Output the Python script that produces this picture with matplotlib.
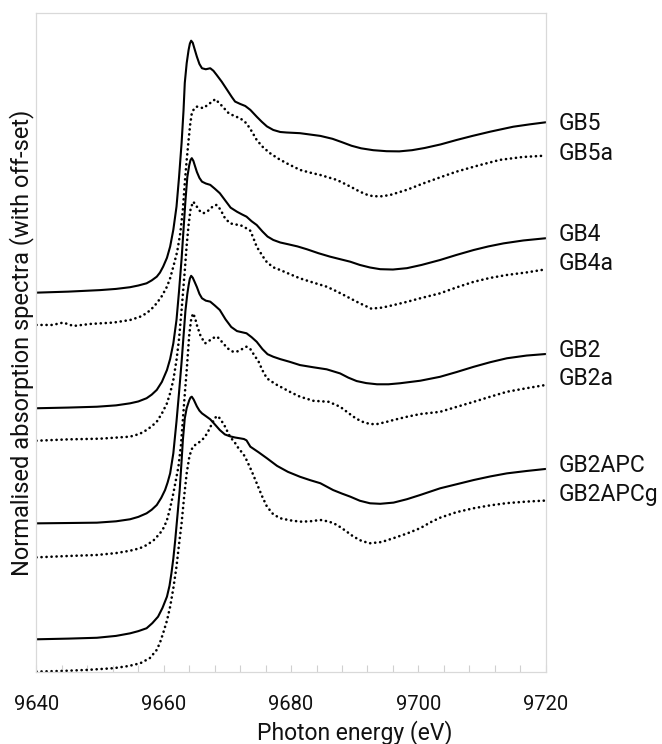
import matplotlib
matplotlib.use("Agg")
import matplotlib.pyplot as plt
from matplotlib.ticker import MultipleLocator
import matplotlib.transforms as mtransforms

plt.rcParams['font.family'] = ['Roboto', 'DejaVu Sans']

# ---------------- data (normalised absorption) ----------------
names = ["GB5", "GB5a", "GB4", "GB4a", "GB2", "GB2a", "GB2APC", "GB2APCg"]
offsets = [2.233, 2.043, 1.553, 1.362, 0.876, 0.676, 0.194, 0.004]

e_gb5 = [9640.0, 9645.0, 9650.0, 9652.5, 9654.7, 9656.0, 9657.3, 9658.1, 9658.9, 9659.4,
         9659.9, 9660.5, 9661.0, 9661.5, 9662.0, 9662.4, 9662.8, 9663.1, 9663.3, 9663.6,
         9663.9, 9664.1, 9664.3, 9664.55, 9664.8, 9665.2, 9665.6, 9666.0, 9666.6, 9667.3,
         9667.8, 9668.3, 9669.1, 9670.0, 9670.7, 9671.2, 9672.0, 9672.8, 9673.6, 9674.6,
         9675.4, 9676.2, 9677.2, 9678.3, 9679.3, 9681.4, 9684.6, 9686.5, 9688.0, 9689.5,
         9691.0, 9692.9, 9695.0, 9697.0, 9699.0, 9701.0, 9703.5, 9706.0, 9708.5, 9711.3,
         9714.9, 9717.5, 9720.0]
mu_gb5 = [0.000, 0.006, 0.015, 0.022, 0.032, 0.042, 0.055, 0.072, 0.094, 0.118,
          0.153, 0.205, 0.271, 0.370, 0.506, 0.680, 0.881, 1.070, 1.234, 1.350,
          1.428, 1.465, 1.482, 1.470, 1.438, 1.388, 1.345, 1.320, 1.314, 1.320,
          1.305, 1.281, 1.241, 1.190, 1.150, 1.124, 1.110, 1.098, 1.075, 1.035,
          1.005, 0.978, 0.957, 0.945, 0.942, 0.938, 0.922, 0.905, 0.885, 0.864,
          0.849, 0.838, 0.832, 0.831, 0.838, 0.851, 0.872, 0.898, 0.922, 0.947,
          0.976, 0.990, 1.002]

e_gb5a = [9640.0, 9642.5, 9644.2, 9645.8, 9648.5, 9652.1, 9654.7, 9656.2, 9657.3, 9658.1,
          9658.9, 9659.7, 9660.5, 9661.0, 9661.5, 9662.1, 9662.6, 9663.0, 9663.3, 9663.6,
          9663.9, 9664.15, 9664.4, 9664.8, 9665.2, 9665.7, 9666.2, 9667.1, 9668.1, 9669.1,
          9670.1, 9671.0, 9672.0, 9673.0, 9673.8, 9674.6, 9675.6, 9676.7, 9678.0, 9679.3,
          9681.4, 9683.0, 9684.6, 9687.2, 9689.3, 9690.8, 9692.0, 9692.9, 9694.3, 9695.6,
          9698.2, 9700.8, 9703.4, 9706.0, 9709.4, 9712.8, 9716.4, 9720.0]
mu_gb5a = [0.000, 0.000, 0.014, -0.006, 0.006, 0.014, 0.029, 0.047, 0.069, 0.095,
           0.128, 0.170, 0.225, 0.275, 0.343, 0.430, 0.541, 0.680, 0.835, 0.970,
           1.088, 1.180, 1.245, 1.275, 1.284, 1.280, 1.275, 1.300, 1.328, 1.290,
           1.249, 1.230, 1.216, 1.186, 1.140, 1.088, 1.045, 1.010, 0.978, 0.951,
           0.912, 0.896, 0.882, 0.853, 0.814, 0.784, 0.765, 0.757, 0.757, 0.765,
           0.795, 0.833, 0.868, 0.902, 0.938, 0.971, 0.988, 0.996]

e_gb4 = [9640.0, 9645.0, 9649.5, 9652.5, 9654.7, 9656.0, 9657.3, 9658.1, 9658.9, 9659.7,
         9660.5, 9661.0, 9661.5, 9662.0, 9662.4, 9662.8, 9663.1, 9663.4, 9663.7, 9664.0,
         9664.2, 9664.4, 9664.65, 9664.9, 9665.2, 9665.6, 9666.0, 9666.6, 9667.3, 9668.0,
         9668.8, 9669.6, 9670.5, 9671.5, 9672.3, 9673.0, 9673.8, 9674.6, 9675.5, 9676.3,
         9677.2, 9678.3, 9679.5, 9681.0, 9682.5, 9684.3, 9686.1, 9687.8, 9689.3, 9690.8,
         9692.4, 9694.0, 9696.0, 9698.2, 9700.5, 9703.4, 9706.0, 9708.7, 9711.0, 9713.4,
         9716.5, 9720.0]
mu_gb4 = [0.000, 0.004, 0.009, 0.017, 0.029, 0.040, 0.059, 0.080, 0.108, 0.155,
          0.225, 0.290, 0.382, 0.520, 0.690, 0.880, 1.050, 1.220, 1.360, 1.430,
          1.460, 1.471, 1.455, 1.425, 1.390, 1.355, 1.333, 1.322, 1.314, 1.292,
          1.265, 1.225, 1.180, 1.156, 1.140, 1.127, 1.100, 1.078, 1.040, 1.010,
          0.990, 0.975, 0.965, 0.952, 0.935, 0.912, 0.892, 0.876, 0.862, 0.843,
          0.828, 0.818, 0.816, 0.824, 0.843, 0.872, 0.902, 0.931, 0.952, 0.970,
          0.987, 1.000]

e_gb4a = [9640.0, 9645.0, 9650.0, 9654.7, 9656.2, 9657.3, 9658.1, 9658.9, 9659.7, 9660.5,
          9661.0, 9661.5, 9662.0, 9662.4, 9662.8, 9663.3, 9663.6, 9663.9, 9664.2, 9664.6,
          9665.0, 9665.3, 9665.8, 9666.2, 9666.7, 9667.2, 9667.8, 9668.3, 9668.9, 9669.6,
          9670.4, 9671.2, 9672.0, 9673.0, 9673.6, 9674.1, 9674.6, 9675.6, 9676.2, 9677.2,
          9678.3, 9679.8, 9681.4, 9683.5, 9685.6, 9687.2, 9688.8, 9690.7, 9692.6, 9694.3,
          9696.1, 9698.2, 9700.3, 9703.4, 9706.0, 9708.7, 9711.3, 9713.9, 9717.0, 9720.0]
mu_gb4a = [0.000, 0.008, 0.012, 0.024, 0.040, 0.063, 0.085, 0.112, 0.160, 0.220,
           0.280, 0.357, 0.475, 0.600, 0.770, 1.000, 1.150, 1.270, 1.360, 1.406,
           1.390, 1.370, 1.345, 1.338, 1.345, 1.360, 1.382, 1.387, 1.360, 1.310,
           1.279, 1.272, 1.269, 1.249, 1.235, 1.190, 1.141, 1.082, 1.050, 1.020,
           1.004, 0.980, 0.955, 0.930, 0.906, 0.878, 0.847, 0.810, 0.777, 0.783,
           0.798, 0.817, 0.838, 0.867, 0.902, 0.935, 0.958, 0.975, 0.990, 1.008]

e_gb2 = [9640.0, 9645.0, 9649.5, 9652.5, 9654.7, 9656.0, 9657.3, 9658.1, 9658.9, 9659.6,
         9660.2, 9660.6, 9661.0, 9661.5, 9662.0, 9662.4, 9662.8, 9663.1, 9663.4, 9663.7,
         9663.9, 9664.1, 9664.3, 9664.55, 9664.85, 9665.2, 9665.6, 9666.0, 9666.6, 9667.3,
         9668.0, 9668.8, 9669.7, 9670.6, 9671.5, 9672.3, 9673.0, 9673.8, 9674.6, 9675.5,
         9676.3, 9677.2, 9678.3, 9679.8, 9681.4, 9683.5, 9685.6, 9687.7, 9689.0, 9690.3,
         9691.8, 9693.5, 9695.3, 9697.1, 9700.3, 9703.4, 9706.0, 9708.7, 9711.3, 9713.9,
         9717.0, 9720.0]
mu_gb2 = [0.000, 0.002, 0.004, 0.012, 0.024, 0.038, 0.059, 0.080, 0.108, 0.150,
          0.196, 0.240, 0.294, 0.412, 0.600, 0.770, 0.950, 1.100, 1.250, 1.350,
          1.400, 1.440, 1.456, 1.445, 1.420, 1.390, 1.350, 1.324, 1.310, 1.304,
          1.282, 1.255, 1.200, 1.155, 1.131, 1.124, 1.118, 1.095, 1.068, 1.025,
          0.995, 0.980, 0.966, 0.950, 0.931, 0.918, 0.906, 0.882, 0.857, 0.837,
          0.825, 0.818, 0.818, 0.824, 0.839, 0.862, 0.890, 0.921, 0.948, 0.971,
          0.987, 0.996]

e_gb2a = [9640.0, 9645.0, 9649.5, 9652.5, 9654.7, 9656.2, 9657.3, 9658.4, 9659.4, 9660.0,
          9660.5, 9661.0, 9661.5, 9662.3, 9662.7, 9663.0, 9663.3, 9663.6, 9664.0, 9664.3,
          9664.6, 9664.9, 9665.2, 9665.8, 9666.5, 9667.0, 9667.7, 9668.4, 9669.2, 9670.0,
          9670.9, 9671.6, 9672.3, 9673.0, 9673.6, 9674.2, 9674.9, 9675.5, 9676.2, 9677.5,
          9678.8, 9680.1, 9681.4, 9683.5, 9685.9, 9687.7, 9688.8, 9689.8, 9691.0, 9692.4,
          9693.5, 9694.8, 9696.1, 9698.2, 9700.3, 9703.4, 9706.0, 9708.7, 9711.3, 9713.9,
          9717.0, 9720.0]
mu_gb2a = [0.000, 0.008, 0.014, 0.025, 0.039, 0.053, 0.072, 0.100, 0.141, 0.175,
           0.219, 0.290, 0.376, 0.533, 0.660, 0.810, 0.960, 1.100, 1.310, 1.400,
           1.435, 1.410, 1.366, 1.300, 1.259, 1.270, 1.290, 1.298, 1.265, 1.230,
           1.209, 1.212, 1.225, 1.239, 1.225, 1.190, 1.151, 1.100, 1.053, 1.020,
           0.994, 0.968, 0.945, 0.921, 0.915, 0.886, 0.855, 0.827, 0.800, 0.784,
           0.784, 0.795, 0.808, 0.827, 0.843, 0.856, 0.885, 0.915, 0.945, 0.974,
           0.995, 1.014]

e_gb2apc = [9640.0, 9645.0, 9649.5, 9652.5, 9654.7, 9656.0, 9657.3, 9658.2, 9659.1, 9659.8,
            9660.5, 9660.9, 9661.2, 9661.5, 9661.8, 9662.2, 9662.5, 9662.8, 9663.0, 9663.3,
            9663.6, 9664.0, 9664.2, 9664.4, 9664.7, 9665.2, 9665.6, 9666.0, 9666.6, 9667.3,
            9668.0, 9668.8, 9669.6, 9670.4, 9671.2, 9672.0, 9672.6, 9673.0, 9673.6, 9674.9,
            9676.2, 9677.8, 9679.5, 9681.4, 9683.0, 9684.6, 9686.6, 9688.0, 9689.3, 9690.8,
            9692.4, 9694.0, 9696.1, 9698.2, 9700.3, 9703.4, 9706.0, 9708.7, 9711.3, 9713.9,
            9717.0, 9720.0]
mu_gb2apc = [0.000, 0.004, 0.009, 0.020, 0.035, 0.048, 0.065, 0.095, 0.133, 0.185,
             0.251, 0.315, 0.388, 0.475, 0.584, 0.750, 0.878, 1.050, 1.172, 1.300,
             1.360, 1.406, 1.422, 1.427, 1.410, 1.370, 1.345, 1.329, 1.313, 1.294,
             1.265, 1.231, 1.205, 1.194, 1.187, 1.182, 1.178, 1.170, 1.133, 1.100,
             1.065, 1.020, 0.985, 0.956, 0.936, 0.918, 0.878, 0.857, 0.839, 0.815,
             0.800, 0.797, 0.804, 0.824, 0.849, 0.888, 0.912, 0.937, 0.958, 0.976,
             0.990, 1.002]

e_gb2apcg = [9640.0, 9644.2, 9648.0, 9652.1, 9654.5, 9656.3, 9657.8, 9658.9, 9659.4, 9659.9,
             9660.5, 9661.0, 9661.5, 9662.0, 9662.4, 9662.8, 9663.2, 9663.6, 9664.0, 9664.3,
             9664.6, 9665.2, 9665.7, 9666.2, 9666.8, 9667.2, 9667.6, 9668.0, 9668.4, 9668.8,
             9669.5, 9670.4, 9671.2, 9671.8, 9672.5, 9673.0, 9673.8, 9674.6, 9675.4, 9676.2,
             9677.2, 9678.3, 9679.8, 9681.4, 9683.0, 9684.6, 9686.0, 9687.2, 9688.5, 9689.8,
             9691.1, 9692.4, 9694.2, 9696.1, 9698.2, 9700.3, 9702.0, 9703.4, 9706.0, 9708.7,
             9711.3, 9713.9, 9717.0, 9720.0]
mu_gb2apcg = [0.000, 0.004, 0.010, 0.020, 0.033, 0.049, 0.079, 0.128, 0.170, 0.226,
              0.300, 0.382, 0.490, 0.618, 0.750, 0.873, 1.030, 1.167, 1.260, 1.300,
              1.324, 1.340, 1.353, 1.370, 1.400, 1.430, 1.460, 1.490, 1.504, 1.490,
              1.450, 1.382, 1.345, 1.310, 1.280, 1.245, 1.180, 1.108, 1.035, 0.971,
              0.925, 0.902, 0.890, 0.882, 0.884, 0.892, 0.882, 0.863, 0.830, 0.794,
              0.768, 0.755, 0.762, 0.785, 0.812, 0.844, 0.880, 0.905, 0.938, 0.961,
              0.978, 0.991, 1.000, 1.006]

energies = [e_gb5, e_gb5a, e_gb4, e_gb4a, e_gb2, e_gb2a, e_gb2apc, e_gb2apcg]
spectra = [mu_gb5, mu_gb5a, mu_gb4, mu_gb4a, mu_gb2, mu_gb2a, mu_gb2apc, mu_gb2apcg]

x_ticks = [9640, 9660, 9680, 9700, 9720]

# ---------------- styling ----------------
solid_style = dict(color='black', lw=1.5, linestyle='-', solid_capstyle='round',
                   solid_joinstyle='round')
dotted_style = dict(color='black', lw=1.9, linestyle=(0, (0.05, 1.85)),
                    dash_capstyle='round')
label_nudge_pt = [0.0, 2.9, 4.0, 5.5, 4.1, 6.0, 3.4, 5.8]

fig = plt.figure(figsize=(6.62, 7.44), dpi=100)
ax = fig.add_axes([0.0551, 0.0964, 0.7692, 0.8866])

for i, (name, e, mu, off) in enumerate(zip(names, energies, spectra, offsets)):
    y = [m + off for m in mu]
    style = solid_style if i % 2 == 0 else dotted_style
    ax.plot(e, y, **style)
    trans = mtransforms.offset_copy(
        mtransforms.blended_transform_factory(ax.transAxes, ax.transData),
        fig=fig, x=0, y=label_nudge_pt[i] - 5.9, units='points')
    ax.text(1.026, y[-1], name, transform=trans, ha='left', va='baseline',
            fontsize=16.5, color='#111111', clip_on=False)

ax.set_xlim(9640, 9720)
ax.set_ylim(0, 3.88)
ax.set_xticks(x_ticks)
ax.xaxis.set_minor_locator(MultipleLocator(4))
ax.set_yticks([])
ax.tick_params(axis='x', which='both', direction='in', length=5, width=0.8,
               color='#d0d0d0', labelsize=14.5, pad=16, labelcolor='#111111')

for sp in ax.spines.values():
    sp.set_color('#d9d9d9')
    sp.set_linewidth(0.9)

ax.set_xlabel("Photon energy (eV)", fontsize=16.5, color='#111111')
ax.xaxis.set_label_coords(0.625, -0.092)
ax.xaxis.label.set_va('center')
ax.set_ylabel("Normalised absorption spectra (with off-set)", fontsize=17,
              color='#111111')
ax.yaxis.set_label_coords(-0.0285, 0.5)
ax.yaxis.label.set_va('center')

fig.savefig("out.png", dpi=100)
